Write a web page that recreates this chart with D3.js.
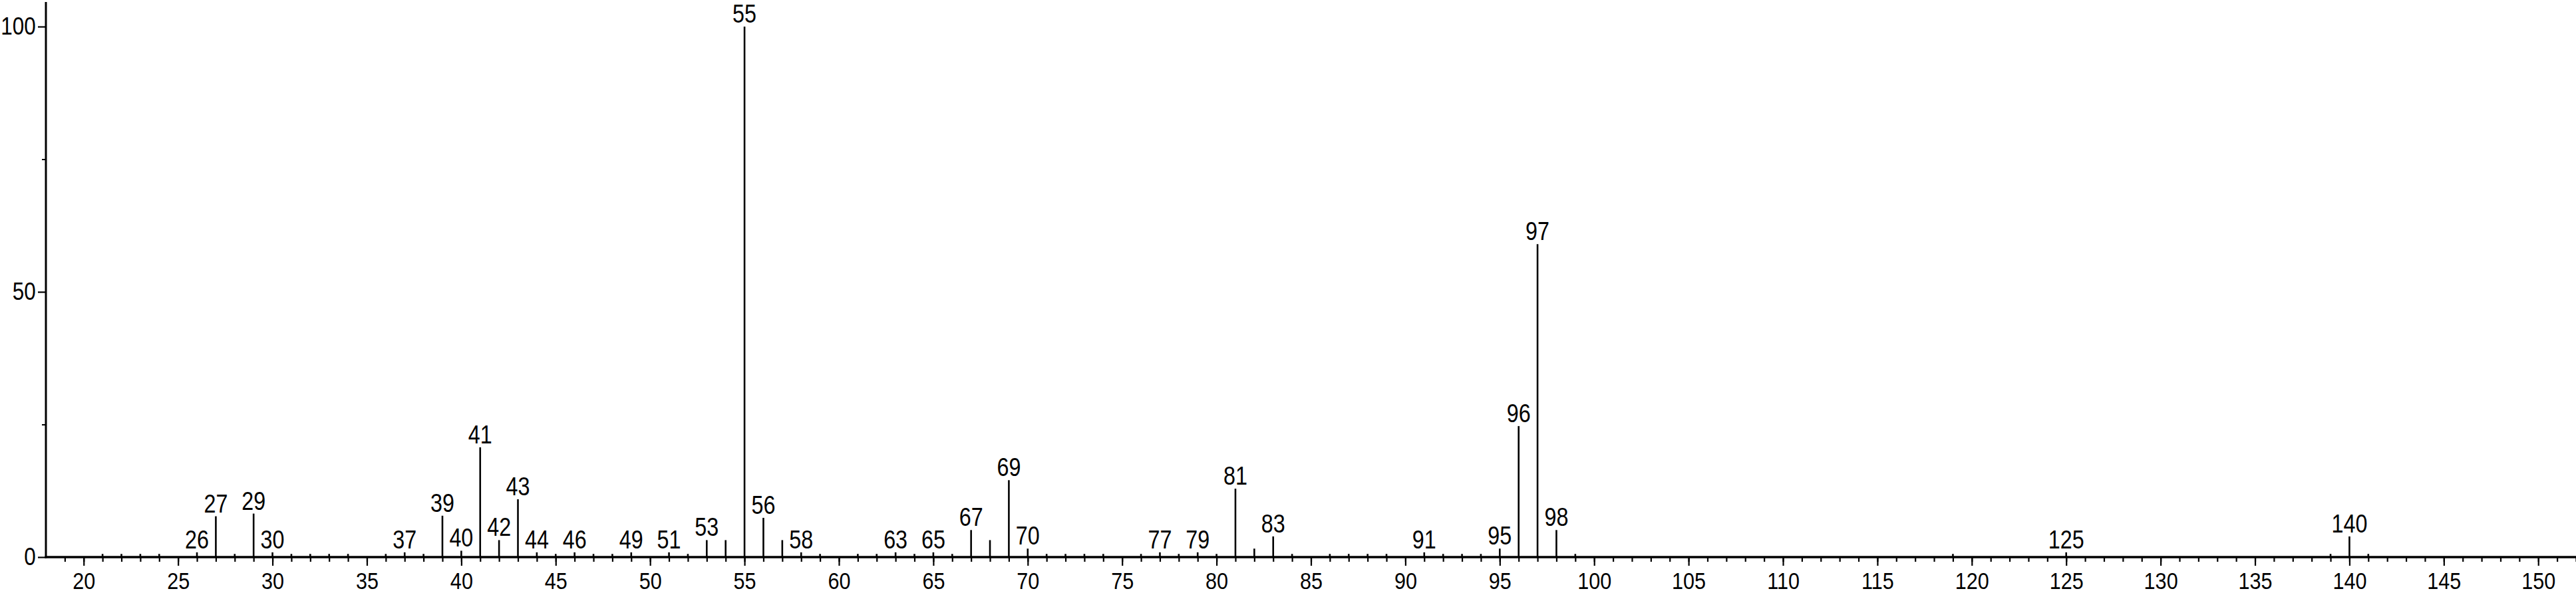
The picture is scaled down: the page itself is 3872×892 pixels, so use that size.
<!DOCTYPE html>
<html>
<head>
<meta charset="utf-8">
<script src="https://cdn.jsdelivr.net/npm/d3@7"></script>
<style>
  html, body { margin: 0; padding: 0; background: #fff; }
  svg { display: block; }
  text { font-family: "Liberation Sans", Arial, Helvetica, sans-serif; fill: #000; }
</style>
</head>
<body>
<svg id="chart" width="3872" height="892"></svg>
<script>
// m/z values of the peaks
const mzValues = [21, 22, 23, 24, 26, 27, 28, 29, 30, 31, 32, 33, 34, 36, 37, 38, 39, 40, 41, 42, 43, 44, 45, 46, 47, 48, 49, 51, 52, 53, 54, 55, 56, 57, 58, 59, 61, 62, 63, 64, 65, 66, 67, 68, 69, 70, 71, 72, 73, 74, 76, 77, 78, 79, 80, 81, 82, 83, 84, 86, 87, 88, 89, 91, 92, 93, 94, 95, 96, 97, 98, 99, 119, 125, 139, 140, 141];
// relative intensities (%)
const intensities = [0.6, 0.6, 0.6, 0.6, 0.9, 7.7, 0.6, 8.2, 0.9, 0.6, 0.6, 0.6, 0.6, 0.6, 0.9, 0.6, 7.8, 1.2, 20.7, 3.2, 10.9, 0.9, 0.6, 0.9, 0.6, 0.6, 0.9, 0.9, 0.6, 3.2, 3.2, 100, 7.4, 3.2, 0.9, 0.6, 0.6, 0.6, 0.9, 0.6, 0.9, 0.6, 5.1, 3.2, 14.5, 1.6, 0.6, 0.6, 0.6, 0.6, 0.6, 0.9, 0.6, 0.9, 0.6, 12.9, 1.6, 3.9, 0.6, 0.6, 0.6, 0.6, 0.6, 0.9, 0.6, 0.6, 0.6, 1.6, 24.7, 59.0, 5.1, 0.6, 0.6, 0.9, 0.6, 3.9, 0.6];
// peaks that carry an m/z label
const labeledPeaks = [26, 27, 29, 30, 37, 39, 40, 41, 42, 43, 44, 46, 49, 51, 53, 55, 56, 58, 63, 65, 67, 69, 70, 77, 79, 81, 83, 91, 95, 96, 97, 98, 125, 140];
// axis ticks
const xMajorTicks = d3.range(20, 151, 5);
const xMinorTicks = d3.range(19, 153, 1);
const yMajorTicks = [0, 50, 100];
const yMinorTicks = [25, 75];

const peaks = mzValues.map((m, i) => ({ mz: m, value: intensities[i] }));

const svg = d3.select("#chart");
const mLeft = 69, mRight = 3872, mTop = 40, mBottom = 838;
const squeeze = "scale(0.85,1)";

const x = d3.scaleLinear().domain([18, 152]).range([mLeft, mRight]);
const y = d3.scaleLinear().domain([0, 100]).range([mBottom, mTop]);

// x axis minor ticks
svg.append("g")
  .attr("transform", `translate(0,${mBottom})`)
  .call(d3.axisBottom(x).tickValues(xMinorTicks).tickSize(7).tickSizeOuter(0).tickFormat(""))
  .call(g => g.select(".domain").remove())
  .call(g => g.selectAll("line").attr("stroke", "#000").attr("stroke-width", 2.2));

// x axis major ticks + labels
svg.append("g")
  .attr("transform", `translate(0,${mBottom})`)
  .call(d3.axisBottom(x).tickValues(xMajorTicks).tickSize(13).tickSizeOuter(0).tickPadding(9).tickFormat(d3.format("d")))
  .call(g => g.select(".domain").remove())
  .call(g => g.selectAll("line").attr("stroke", "#000").attr("stroke-width", 2.2))
  .call(g => g.selectAll("text").attr("font-size", 36).attr("font-family", null).attr("transform", squeeze));

// y axis minor ticks
svg.append("g")
  .attr("transform", `translate(${mLeft},0)`)
  .call(d3.axisLeft(y).tickValues(yMinorTicks).tickSize(6).tickSizeOuter(0).tickFormat(""))
  .call(g => g.select(".domain").remove())
  .call(g => g.selectAll("line").attr("stroke", "#000").attr("stroke-width", 2));

// y axis major ticks + labels
svg.append("g")
  .attr("transform", `translate(${mLeft},0)`)
  .call(d3.axisLeft(y).tickValues(yMajorTicks).tickSize(12).tickSizeOuter(0).tickPadding(6).tickFormat(d3.format("d")))
  .call(g => g.select(".domain").remove())
  .call(g => g.selectAll("line").attr("stroke", "#000").attr("stroke-width", 2.2))
  .call(g => g.selectAll("text").attr("font-size", 37).attr("font-family", null).attr("transform", squeeze));

// axis lines
svg.append("line")
  .attr("x1", mLeft).attr("x2", mLeft)
  .attr("y1", 3).attr("y2", mBottom + 1.5)
  .attr("stroke", "#000").attr("stroke-width", 3);
svg.append("line")
  .attr("x1", mLeft - 1.5).attr("x2", mRight)
  .attr("y1", mBottom).attr("y2", mBottom)
  .attr("stroke", "#000").attr("stroke-width", 3.5);

// peaks
svg.append("g").selectAll("line")
  .data(peaks)
  .join("line")
  .attr("x1", d => x(d.mz)).attr("x2", d => x(d.mz))
  .attr("y1", y(0)).attr("y2", d => y(d.value))
  .attr("stroke", "#000").attr("stroke-width", 2.6);

// peak labels
svg.append("g").selectAll("text")
  .data(peaks.filter(d => labeledPeaks.includes(d.mz)))
  .join("text")
  .attr("transform", d => `translate(${x(d.mz)},${y(d.value) - 6}) ${squeeze}`)
  .attr("text-anchor", "middle")
  .attr("font-size", 38)
  .text(d => d.mz);
</script>
</body>
</html>
